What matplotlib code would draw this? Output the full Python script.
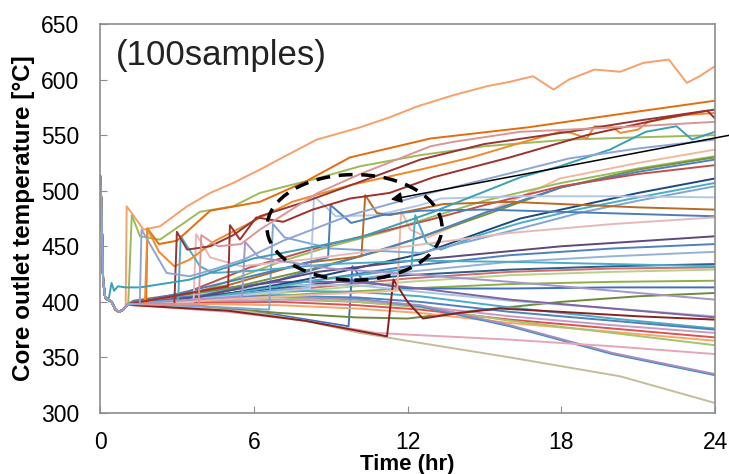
import numpy as np
import matplotlib.pyplot as plt
from matplotlib.patches import Ellipse

plt.rcParams['font.family'] = ['Liberation Sans', 'DejaVu Sans']

# start-up transient shared by every sample (time hr, temperature degC)
start_t = [0.0, 0.05, 0.12, 0.2, 0.3, 0.45, 0.6, 0.75, 0.9, 1.1]
start_T = [514, 490, 420, 404, 402, 400, 393, 391, 393, 398]

# upper samples: early jump to the high branch
upper_colors = ['#F7A06A', '#9BBB59', '#E46C0A', '#F08A24', '#953735',
                '#A0302C', '#D99694', '#3AA0B8', '#8EA5D5']
upper_t = [
    [1.0, 1.04, 1.7, 2.34, 3.4, 4.3, 5.2, 6.24, 7.3, 8.46, 10.15, 11.3, 12.4,
     13.8, 15.1, 16.0, 16.9, 17.7, 18.3, 19.3, 20.3, 21.2, 22.2, 22.9, 23.4, 24],
    [1.1, 1.24, 1.56, 2.34, 3.9, 5.2, 6.24, 8.46, 10.15, 12.5, 15, 18.3, 21, 24],
    [1.8, 1.85, 2.3, 3.0, 4.3, 6.24, 8.0, 9.76, 12.9, 16.7, 20, 24],
    [1.75, 1.85, 2.3, 2.9, 3.5, 4.5, 5.85, 7.5, 9.76, 12.5, 14.5, 16.4, 17.5,
     17.95, 18.4, 19.0, 19.3, 20.0, 20.3, 21.0, 21.4, 22.8, 24],
    [2.9, 3.0, 3.4, 4.3, 5.2, 6.24, 8, 10.15, 12.5, 15, 18.3, 21, 24],
    [5.0, 5.07, 5.46, 6.1, 7.15, 8.3, 9.76, 11.3, 13, 16, 19, 22, 23.7, 24],
    [3.85, 3.95, 4.6, 5.5, 6.24, 7.2, 8.5, 10.15, 12.9, 13.8, 16.4, 18.3, 21, 24],
    [0.35, 0.45, 0.55, 0.7, 1.0, 1.56, 3.5, 5.98, 8.46, 10.15, 12.9, 16.4, 17.95,
     19.9, 21.3, 22.5, 23.1, 24],
    [1.55, 1.62, 2.6, 3.5, 4.4, 5.6, 7.15, 9.76, 11.3, 12.9, 16.4, 18.3, 21, 24],
]
upper_T = [
    [396, 486, 465, 468, 486, 498, 507, 519, 532, 546, 557, 566, 576,
     586, 594, 598, 603, 591, 600, 609, 607, 615, 618, 597, 603, 612],
    [398, 478, 459, 456, 481, 486, 498, 511, 522, 532, 540, 546, 548, 550],
    [398, 466, 452, 455, 482, 490, 508, 530, 547, 557, 568, 581],
    [398, 466, 445, 432, 438, 455, 471, 490, 505, 519, 530, 543, 550,
     553, 552, 547, 558, 557, 552, 555, 562, 568, 570],
    [398, 463, 447, 450, 460, 477, 490, 508, 528, 542, 553, 563, 573],
    [414, 469, 456, 476, 472, 483, 493, 498, 512, 530, 550, 565, 572, 565],
    [398, 460, 450, 452, 465, 479, 498, 515, 540, 544, 553, 555, 558, 562],
    [404, 417, 410, 414, 413, 413, 420, 439, 450, 458, 480, 512, 522,
     537, 553, 558, 546, 553],
    [398, 465, 426, 423, 429, 438, 455, 478, 488, 498, 518, 529, 538, 546],
]

# middle samples: late jumps / steady rise
middle_colors = ['#F2B8A0', '#9BBB59', '#77933C', '#4F81BD', '#C0504D',
                 '#1F497D', '#4BACC6', '#7EA6D6', '#B4C7E7', '#B86B25',
                 '#4A7EBB', '#5F497A', '#E6B9B8', '#4BACC6', '#A596C8']
middle_t = [
    [11.6, 11.75, 12.1, 12.8, 14.5, 16, 17.95, 21, 24],
    [1.3, 4, 7.15, 9, 11.3, 12.9, 15, 18, 21, 24],
    [1.3, 5, 8, 10.8, 12.5, 15, 18, 21, 24],
    [1.3, 4, 7, 10, 12.5, 15, 18, 21, 24],
    [1.3, 3, 5.85, 9, 12.9, 15, 18, 21, 24],
    [1.3, 4, 8, 12.5, 14.8, 16.4, 18, 21, 24],
    [1.3, 4, 8, 12.15, 12.3, 12.75, 13.3, 14.8, 16.4, 18.6, 21, 24],
    [1.3, 4, 6.6, 6.75, 7.2, 9, 12.5, 14.5, 16.4, 18.7, 21, 24],
    [1.3, 5, 8.2, 8.35, 9.2, 10.8, 12.5, 13.3, 16.4, 20, 24],
    [1.3, 5, 8, 10.2, 10.35, 10.8, 11.3, 13.4, 16, 18, 21, 24],
    [1.3, 5, 8.9, 9.0, 9.8, 11, 12.5, 15, 18, 24],
    [1.3, 4, 8.5, 12.5, 18, 24],
    [3.65, 3.75, 4.3, 5.5, 8, 12, 16, 20, 24],
    [3.05, 3.15, 3.9, 4.4, 6, 9, 12.5, 16, 20, 24],
    [5.55, 5.66, 6.2, 7, 9, 12, 16, 20, 24],
]
middle_T = [
    [410, 482, 465, 458, 475, 490, 511, 525, 537],
    [399, 410, 437, 450, 464, 476, 491, 507, 520, 531],
    [400, 412, 428, 445, 458, 478, 503, 519, 530],
    [400, 406, 420, 440, 458, 480, 503, 517, 528],
    [399, 405, 431, 452, 474, 487, 504, 515, 523],
    [399, 403, 420, 443, 462, 475, 483, 498, 511],
    [399, 403, 418, 430, 478, 453, 447, 460, 471, 483, 494, 507],
    [398, 396, 393, 470, 458, 448, 444, 455, 466, 480, 491, 504],
    [398, 405, 412, 495, 477, 478, 487, 493, 495, 495, 494],
    [398, 415, 435, 441, 496, 480, 478, 488, 490, 488, 485, 483],
    [398, 418, 440, 487, 471, 478, 482, 483, 481, 477],
    [398, 405, 427, 438, 450, 459],
    [400, 461, 440, 432, 438, 450, 462, 470, 476],
    [402, 459, 432, 426, 428, 434, 437, 436, 434, 432],
    [405, 454, 440, 437, 430, 425, 418, 410, 402],
]

# lower samples: stay on the low branch
lower_colors = ['#4F81BD', '#95B3D7', '#2C5F8A', '#D46A6A', '#B7D08A',
                '#8DB04A', '#3D72B8', '#6E8B3D', '#A5C5E0', '#8064A2',
                '#4BACC6', '#4F81BD', '#C89BC4', '#D9534F', '#F8A66A',
                '#A6C46A', '#3E8FC4', '#A98CC0', '#E6A6B4', '#C4BD97',
                '#8B2020']
lower_t = [
    [1.3, 4, 8, 12, 16, 20, 24],
    [1.3, 4, 8, 12, 16, 20, 24],
    [1.3, 4, 8, 12, 16, 20, 24],
    [1.3, 4, 8, 12, 16, 20, 24],
    [1.3, 4, 8, 12, 16, 20, 24],
    [1.3, 4, 8, 12, 16, 20, 24],
    [1.3, 4, 7, 9.7, 9.85, 10.3, 12, 16, 20, 24],
    [1.3, 4, 7, 10, 12, 15, 18, 21, 24],
    [1.3, 4, 7, 10, 12.5, 16, 20, 24],
    [1.3, 4, 7, 10, 12.5, 16, 20, 24],
    [1.3, 4, 7, 10, 12.5, 16, 20, 24],
    [1.3, 4, 7, 10, 12.5, 16, 20, 24],
    [1.3, 4, 7, 10, 12.5, 16, 20, 24],
    [1.3, 4, 7, 10, 12.5, 16, 20, 24],
    [1.3, 4, 7, 10, 12.5, 16, 20, 24],
    [1.3, 4, 7, 10, 12.5, 16, 20, 24],
    [1.3, 4, 7, 10, 12.5, 16, 20, 24],
    [1.3, 4, 7, 10, 12.5, 16, 20, 24],
    [1.3, 5, 8, 10.8, 12.5, 16, 20, 24],
    [1.3, 3, 5.85, 8, 10.15, 12.5, 16, 20.3, 24],
    [1.3, 5, 8, 11.2, 11.45, 12.0, 12.6, 14, 15.6, 18, 21, 24],
]
lower_T = [
    [399, 404, 418, 432, 442, 448, 452],
    [398, 402, 414, 427, 436, 441, 445],
    [400, 405, 415, 424, 429, 432, 434],
    [399, 403, 412, 421, 427, 430, 431],
    [398, 401, 410, 418, 424, 427, 429],
    [398, 400, 407, 412, 416, 418, 419],
    [398, 396, 388, 378, 432, 418, 412, 412, 413, 413],
    [398, 396, 390, 386, 385, 393, 400, 405, 408],
    [400, 408, 415, 415, 409, 401, 394, 387],
    [401, 410, 418, 418, 412, 402, 394, 386],
    [399, 404, 410, 409, 405, 395, 385, 376],
    [399, 402, 405, 404, 400, 391, 383, 375],
    [398, 400, 402, 400, 396, 387, 379, 372],
    [398, 399, 400, 397, 393, 384, 376, 368],
    [398, 398, 397, 394, 390, 381, 373, 365],
    [399, 402, 404, 400, 395, 383, 372, 361],
    [399, 403, 406, 403, 396, 378, 353, 334],
    [398, 402, 405, 402, 397, 379, 354, 335],
    [397, 391, 383, 372, 370, 366, 360, 353],
    [397, 396, 391, 383, 372, 363, 350, 333, 309],
    [397, 392, 383, 369, 420, 400, 385, 390, 394, 391, 387, 384],
]

fig = plt.figure(figsize=(7.29, 4.74), dpi=100)
ax = fig.add_axes([0.1372, 0.1287, 0.8436, 0.8207])


def draw(ts, vals, color):
    n = sum(1 for t in start_t if t < ts[0])
    x = start_t[:n] + list(ts)
    y = start_T[:n] + list(vals)
    ax.plot(x, y, color=color, lw=1.4, solid_joinstyle='round')


for group_t, group_T, group_c in [(lower_t, lower_T, lower_colors),
                                  (middle_t, middle_T, middle_colors),
                                  (upper_t, upper_T, upper_colors)]:
    for ts, vals, c in zip(group_t, group_T, group_c):
        draw(ts, vals, c)

# highlighted region and arrow
ax.add_patch(Ellipse((9.93, 467), width=6.83, height=95, fill=False,
                     ec='black', lw=2.5, ls=(0, (4, 2.5)), zorder=10))
ax.annotate('', xy=(11.24, 491.6), xytext=(24.7, 550.5),
            arrowprops=dict(arrowstyle='-|>', color='black', lw=1.1,
                            mutation_scale=16),
            annotation_clip=False, zorder=11)

ax.text(0.6, 622, '(100samples)', fontsize=25, va='center', ha='left',
        color='#222222')

ax.set_xlim(0, 24)
ax.set_ylim(300, 650)
ax.set_xticks(np.arange(0, 25, 6))
ax.set_yticks(np.arange(300, 651, 50))
for s in ax.spines.values():
    s.set_color('#8c8c8c')
    s.set_linewidth(1.2)
ax.tick_params(direction='in', length=5, color='#8c8c8c', labelsize=16.5,
               pad=15, labelcolor='black')
ax.tick_params(axis='x', pad=13)
ax.set_xlabel('Time (hr)', fontsize=16, fontweight='bold')
ax.xaxis.label.set_verticalalignment('baseline')
ax.xaxis.set_label_coords(0.5, -0.146)
ax.set_ylabel('Core outlet temperature [°C]', fontsize=17.5, fontweight='bold')
ax.yaxis.label.set_verticalalignment('center')
ax.yaxis.set_label_coords(-0.125, 0.5)

fig.savefig('out.png', dpi=100)
